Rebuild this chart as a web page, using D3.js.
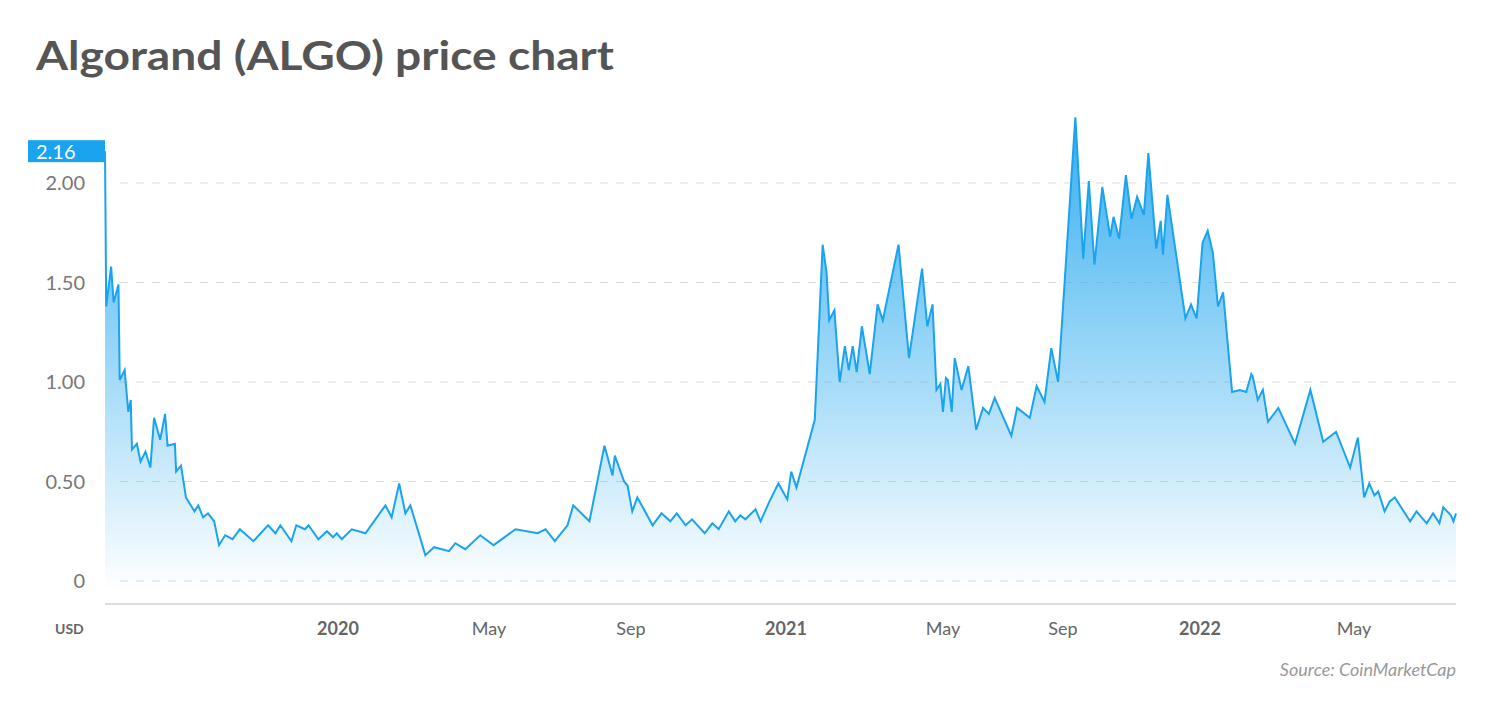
<!DOCTYPE html>
<html><head><meta charset="utf-8">
<script src="https://cdn.jsdelivr.net/npm/d3@7"></script>
<style>body{margin:0;background:#fff;font-family:Lato,"Open Sans",sans-serif}</style>
</head><body><svg id="c" width="1500" height="710"></svg>
<script>
const startDate = "2019-06-25";
const dayOffsets = [0,1,5,7,11,12,16,19,21,22,26,29,33,37,40,45,49,51,57,58,62,66,73,76,80,84,89,93,98,104,110,121,133,139,143,152,156,163,166,174,181,186,189,193,201,212,228,233,239,244,248,260,267,279,284,292,304,315,334,353,360,368,379,384,398,411,418,420,428,431,435,439,451,458,465,470,477,482,492,498,503,511,516,520,524,532,536,543,550,557,560,564,578,584,587,589,593,597,601,604,607,610,614,620,626,630,642,650,660,664,668,671,674,676,679,681,685,688,695,702,710,717,723,729,746,752,765,772,780,787,794,810,817,822,827,834,841,844,849,855,860,865,871,875,882,886,888,892,908,913,918,923,927,931,935,939,946,952,957,961,962,966,970,974,982,995,1007,1017,1027,1038,1044,1049,1053,1057,1060,1065,1069,1073,1085,1090,1098,1103,1108,1111,1117,1119,1121];
const prices = [2.16,1.38,1.58,1.40,1.49,1.01,1.06,0.85,0.91,0.66,0.69,0.60,0.65,0.57,0.82,0.71,0.84,0.68,0.69,0.55,0.58,0.42,0.35,0.38,0.32,0.34,0.30,0.18,0.23,0.21,0.26,0.20,0.28,0.24,0.28,0.20,0.28,0.26,0.28,0.21,0.25,0.22,0.24,0.21,0.26,0.24,0.38,0.32,0.49,0.34,0.38,0.13,0.17,0.15,0.19,0.16,0.23,0.18,0.26,0.24,0.26,0.20,0.28,0.38,0.30,0.68,0.53,0.63,0.50,0.48,0.35,0.42,0.28,0.34,0.30,0.34,0.28,0.31,0.24,0.29,0.26,0.35,0.30,0.33,0.31,0.36,0.30,0.40,0.49,0.41,0.55,0.47,0.81,1.69,1.55,1.31,1.36,1.00,1.18,1.06,1.18,1.05,1.28,1.04,1.39,1.31,1.69,1.12,1.57,1.28,1.39,0.96,0.99,0.85,1.02,1.01,0.85,1.12,0.96,1.08,0.76,0.87,0.84,0.92,0.73,0.87,0.82,0.98,0.90,1.17,1.00,2.33,1.62,2.01,1.59,1.98,1.73,1.83,1.72,2.04,1.82,1.93,1.84,2.15,1.67,1.81,1.64,1.94,1.32,1.39,1.32,1.70,1.76,1.65,1.38,1.45,0.95,0.96,0.95,1.04,1.03,0.91,0.96,0.80,0.87,0.69,0.96,0.70,0.75,0.57,0.72,0.42,0.49,0.43,0.45,0.35,0.40,0.42,0.30,0.35,0.29,0.34,0.29,0.37,0.33,0.30,0.34];
const yTicks = [0,0.5,1,1.5,2];
const yTickLabels = ["0","0.50","1.00","1.50","2.00"];
const xTickDates = ["2020-01-01","2020-05-01","2020-09-01","2021-01-01","2021-05-01","2021-09-01","2022-01-01","2022-05-01"];
const xTickLabels = ["2020","May","Sep","2021","May","Sep","2022","May"];
const currentLabel = "2.16";

const svg = d3.select("#c");
const p = d3.timeParse("%Y-%m-%d");
const s0 = p(startDate);
const data = dayOffsets.map((d,i)=>({date:d3.timeDay.offset(s0,d), v:prices[i]}));
const endDate = d3.timeDay.offset(s0, dayOffsets[dayOffsets.length-1]);
// axis breakpoints (uneven spacing in the source chart)
const x = d3.scaleTime()
  .domain([s0, ...xTickDates.map(p), endDate])
  .range([105,338,489,631,786,943,1063,1200,1354,1456]);
const y = d3.scaleLinear().domain([0,2]).range([581,183]);

svg.append("text").attr("x",36).attr("y",70).attr("font-size",40).attr("font-weight",700).attr("fill","#555")
  .attr("textLength",578).attr("lengthAdjust","spacingAndGlyphs").text("Algorand (ALGO) price chart");

const defs = svg.append("defs");
const g = defs.append("linearGradient").attr("id","gr").attr("x1",0).attr("x2",0).attr("y1",0).attr("y2",1);
g.append("stop").attr("offset","0%").attr("stop-color","#35aef0").attr("stop-opacity",1);
g.append("stop").attr("offset","100%").attr("stop-color","#35aef0").attr("stop-opacity",0);

svg.append("g").selectAll("line").data(yTicks).join("line")
 .attr("x1",120).attr("x2",1456).attr("y1",d=>y(d)).attr("y2",d=>y(d))
 .attr("stroke","#dcdcdc").attr("stroke-dasharray","8,8");
svg.append("g").selectAll("text").data(yTicks).join("text")
 .attr("x",85).attr("y",d=>y(d)+7).attr("text-anchor","end").attr("font-size",20).attr("fill","#777")
 .text((d,i)=>yTickLabels[i]);

svg.append("path").datum(data).attr("fill","url(#gr)")
 .attr("d",d3.area().x(d=>x(d.date)).y0(y(-0.05)).y1(d=>y(d.v)));
svg.append("path").datum(data).attr("fill","none").attr("stroke","#1aa3ef").attr("stroke-width",2)
 .attr("d",d3.line().x(d=>x(d.date)).y(d=>y(d.v)));

svg.append("line").attr("x1",105).attr("x2",1456).attr("y1",604).attr("y2",604).attr("stroke","#ddd").attr("stroke-width",2);

svg.append("g").selectAll("text").data(xTickDates).join("text")
 .attr("x",d=>x(p(d))).attr("y",635).attr("text-anchor","middle").attr("font-size",18)
 .attr("fill","#666").attr("font-weight",(d,i)=>/^\d+$/.test(xTickLabels[i])?700:400)
 .text((d,i)=>xTickLabels[i]);
svg.append("text").attr("x",55).attr("y",634).attr("font-size",14).attr("font-weight",700).attr("fill","#666").text("USD");

const cy = y(prices[0]);
svg.append("rect").attr("x",28).attr("y",cy-11).attr("width",77).attr("height",22).attr("fill","#1aa3ef");
svg.append("text").attr("x",36).attr("y",cy+8).attr("font-size",20).attr("fill","#fff").text(currentLabel);

svg.append("text").attr("x",1456).attr("y",676).attr("text-anchor","end").attr("font-size",18).attr("font-style","italic").attr("fill","#999").text("Source: CoinMarketCap");
</script></body></html>
